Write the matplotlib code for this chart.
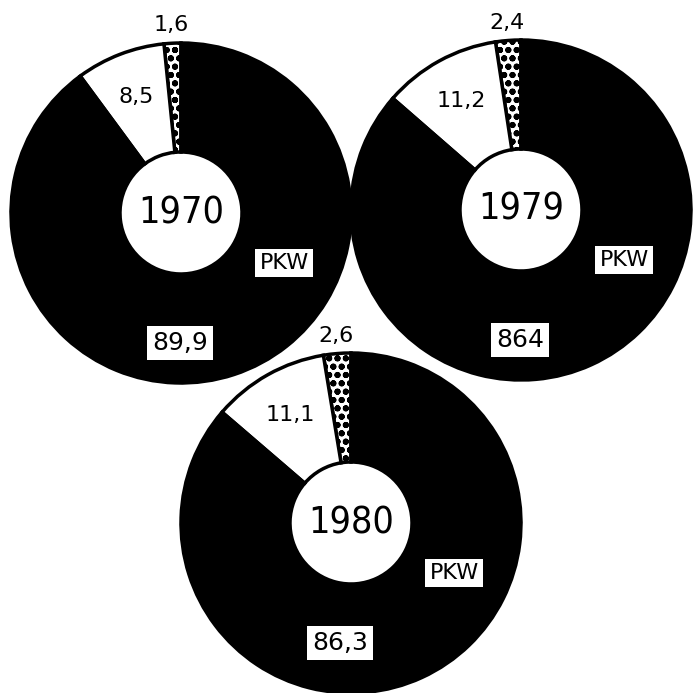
import numpy as np
import matplotlib.pyplot as plt
from matplotlib.patches import Circle

# Anteile in Prozent: PKW, mittleres Segment (weiss), kleines Segment (punktiert)
years = ['1970', '1979', '1980']
small_share = [1.6, 2.4, 2.6]
white_share = [8.5, 11.2, 11.1]
pkw_share = [89.9, 86.4, 86.3]
small_labels = ['1,6', '2,4', '2,6']
white_labels = ['8,5', '11,2', '11,1']
pkw_labels = ['89,9', '864', '86,3']

W = H = 693
centers = [(181, 213), (521, 210), (351, 523)]   # Pixel, y nach unten
R_out, R_in = 170, 61

plt.rcParams['hatch.linewidth'] = 2.0
fig = plt.figure(figsize=(6.93, 6.93), dpi=100)
ax = fig.add_axes([0, 0, 1, 1])

for i, (cx, cy) in enumerate(centers):
    c = (cx, H - cy)
    if i == 2:
        # weisser Rand um den vorderen Ring
        ax.add_patch(Circle(c, R_out + 6, facecolor='white', edgecolor='none'))
    wedges, _ = ax.pie([small_share[i], white_share[i], pkw_share[i]],
                       colors=['white', 'white', 'black'],
                       startangle=90, counterclock=True,
                       center=c, radius=R_out,
                       wedgeprops=dict(width=R_out - R_in, edgecolor='black',
                                       linewidth=2.5))
    wedges[0].set_hatch('oo')

    tot = small_share[i] + white_share[i] + pkw_share[i]
    a_small = np.deg2rad(90 + small_share[i] / 2 / tot * 360)
    a_white = np.deg2rad(90 + (small_share[i] + white_share[i] / 2) / tot * 360)

    ax.text(c[0] + 188 * np.cos(a_small), c[1] + 188 * np.sin(a_small),
            small_labels[i], ha='center', va='center', fontsize=16)
    ax.text(c[0] + 124 * np.cos(a_white), c[1] + 124 * np.sin(a_white),
            white_labels[i], ha='center', va='center', fontsize=16)
    ax.text(c[0], c[1], years[i], ha='center', va='center', fontsize=27,
            fontstretch='condensed')
    ax.text(c[0] + 103, c[1] - 50, 'PKW', ha='center', va='center', fontsize=16,
            bbox=dict(boxstyle='square,pad=0.2', facecolor='white',
                      edgecolor='none'))
    ax.text(c[0] - (1 if i < 2 else 11), c[1] - (130 if i < 2 else 120),
            pkw_labels[i], ha='center', va='center', fontsize=18,
            bbox=dict(boxstyle='square,pad=0.2', facecolor='white',
                      edgecolor='none'))

ax.set_xlim(0, W)
ax.set_ylim(0, H)
ax.set_aspect('equal')
ax.axis('off')

fig.savefig('out.png', dpi=100, facecolor='white')
